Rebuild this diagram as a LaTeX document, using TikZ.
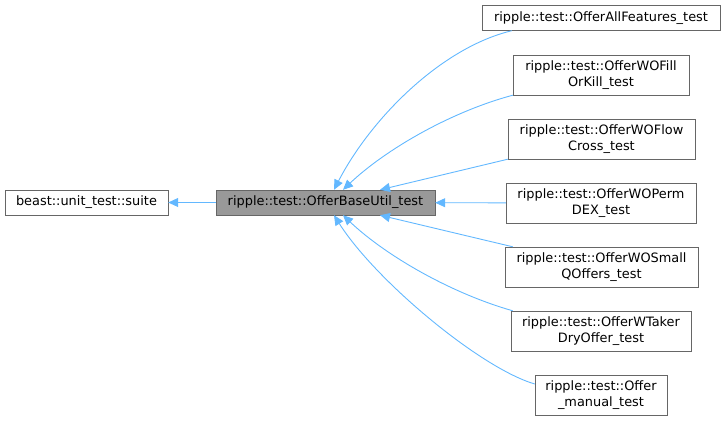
\documentclass[tikz,border=0pt]{standalone}
\usepackage{fontspec}
\setmainfont{DejaVu Sans}
\usetikzlibrary{arrows.meta}
\definecolor{edgeblue}{HTML}{63B8FF}
\definecolor{frame}{HTML}{666666}
\definecolor{basegray}{HTML}{999999}
\begin{document}
\begin{tikzpicture}[
  x=1pt, y=-1pt,
  font=\fontsize{12.9}{15.5}\selectfont,
  cls/.style={draw=frame, fill=white, inner sep=0pt, align=center, minimum height=25pt},
  cls2/.style={cls, minimum height=40pt},
  edge/.style={draw=edgeblue, line width=0.9pt, -{Triangle[length=10pt,width=9pt,fill=edgeblue]}},
]
\useasboundingbox (0,0) rectangle (725,421);

% ===== base classes =====
\node[cls, minimum width=163pt] (suite) at (86.5,202.5) {beast::unit\_test::suite};
\node[cls, minimum width=219pt, fill=basegray] (base) at (325.5,202.5) {ripple::test::OfferBaseUtil\_test};

% ===== derived tests =====
\node[cls,  minimum width=238pt] (allf)   at (601,18)    {ripple::test::OfferAllFeatures\_test};
\node[cls2, minimum width=176pt] (fok)    at (601,75)    {ripple::test::OfferWOFill\\OrKill\_test};
\node[cls2, minimum width=187pt] (flow)   at (601.5,139) {ripple::test::OfferWOFlow\\Cross\_test};
\node[cls2, minimum width=190pt] (perm)   at (601,203)   {ripple::test::OfferWOPerm\\DEX\_test};
\node[cls2, minimum width=193pt] (small)  at (601.5,267) {ripple::test::OfferWOSmall\\QOffers\_test};
\node[cls2, minimum width=180pt] (taker)  at (601,331)   {ripple::test::OfferWTaker\\DryOffer\_test};
\node[cls2, minimum width=132pt] (manual) at (601,395)   {ripple::test::Offer\\\_manual\_test};

% ===== inheritance edges =====
\draw[edge] (base) -- (suite);
\draw[edge] ([xshift=30pt]allf.south west) .. controls (440,48) and (370,120) .. ([xshift=8.5pt]base.north);
\draw[edge] (fok.south west) .. controls (450,112) and (385,150) .. ([xshift=17.5pt]base.north);
\draw[edge] (flow.south west) -- ([xshift=54.5pt]base.north);
\draw[edge] (perm) -- (base);
\draw[edge] ([xshift=8pt]small.north west) -- ([xshift=54.5pt]base.south);
\draw[edge] ([xshift=2pt]taker.north west) .. controls (450,293) and (385,255) .. ([xshift=17.5pt]base.south);
\draw[edge] ([yshift=11pt]manual.west) .. controls (480,368) and (375,280) .. ([xshift=8.5pt]base.south);
\end{tikzpicture}
\end{document}
